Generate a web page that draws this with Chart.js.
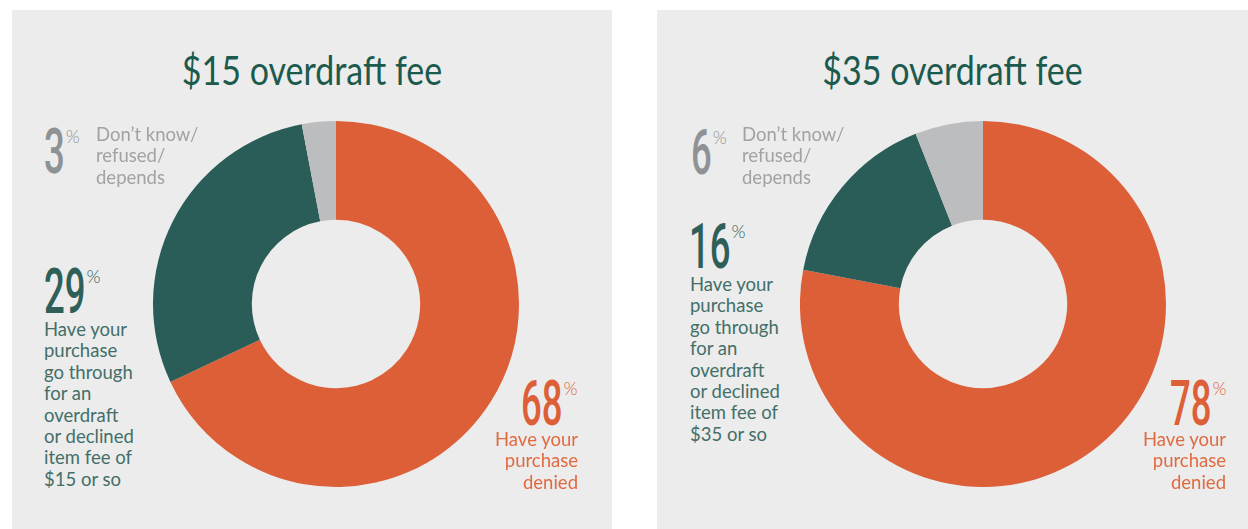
<!DOCTYPE html>
<html>
<head>
<meta charset="utf-8">
<script src="https://cdn.jsdelivr.net/npm/chart.js@4.4.1/dist/chart.umd.min.js"></script>
<style>
  body { margin: 0; background: #fff; width: 1248px; height: 529px; overflow: hidden; position: relative; font-family: Lato, sans-serif; }
  .panel { position: absolute; top: 10px; height: 519px; background: #ececec; }
  .title { position: absolute; top: 10px; white-space: nowrap; font-family: Lato, sans-serif; font-weight: 400; font-size: 40px; line-height: 1; color: #1b5a4d; transform: scaleX(0.85); transform-origin: center top; text-align: center; }
  .box { position: absolute; width: 366px; height: 366px; }
  .num { position: absolute; font-family: Roboto, sans-serif; font-weight: 500; font-size: 63px; line-height: 63px; white-space: nowrap; transform: scaleX(0.58); transform-origin: left top; }
  .pct { position: absolute; font-family: Lato, sans-serif; font-weight: 300; font-size: 18px; line-height: 18px; }
  .txt { position: absolute; font-family: Lato, sans-serif; font-size: 18.5px; line-height: 21.4px; white-space: nowrap; }
</style>
</head>
<body>
<script>
// data
const categories = ['Have your purchase denied', 'Have your purchase go through for an overdraft or declined item fee', 'Don\u2019t know/refused/depends'];
const titles = ['$15 overdraft fee', '$35 overdraft fee'];
const fee15 = [68, 29, 3];
const fee35 = [78, 16, 6];
const lines15 = [
  ['Have your', 'purchase', 'denied'],
  ['Have your', 'purchase', 'go through', 'for an', 'overdraft', 'or declined', 'item fee of', '$15 or so'],
  ['Don\u2019t know/', 'refused/', 'depends']
];
const lines35 = [
  ['Have your', 'purchase', 'denied'],
  ['Have your', 'purchase', 'go through', 'for an', 'overdraft', 'or declined', 'item fee of', '$35 or so'],
  ['Don\u2019t know/', 'refused/', 'depends']
];

// styles / layout
const sliceColors = ['#dc5f37', '#2b5d58', '#bcbdbf'];
const numColors = ['#dc5f37', '#2e5f59', '#8f9294'];
const textColors = ['#e06a40', '#436f68', '#a0a2a4'];

const panels = [
  { left: 12, width: 600, box: [153, 121], values: fee15, lines: lines15, title: titles[0],
    labels: [
      { num: [521, 380], text: [578, 447], align: 'right' },
      { num: [44, 268], text: [44, 337], align: 'left' },
      { num: [44, 128], text: [96, 142], align: 'left' }
    ] },
  { left: 657, width: 591, box: [800, 121], values: fee35, lines: lines35, title: titles[1],
    labels: [
      { num: [1170, 380], text: [1226, 447], align: 'right' },
      { num: [689, 223], text: [690, 292], align: 'left' },
      { num: [691, 129], text: [742, 142], align: 'left' }
    ] }
];

function el(cls, css, txt) {
  const d = document.createElement('div');
  d.className = cls;
  Object.assign(d.style, css);
  if (txt !== undefined) d.textContent = txt;
  document.body.appendChild(d);
  return d;
}

panels.forEach(p => {
  el('panel', { left: p.left + 'px', width: p.width + 'px' });
  el('title', { left: p.left + 'px', width: p.width + 'px', top: '50px' }, p.title);

  const box = el('box', { left: p.box[0] + 'px', top: p.box[1] + 'px' });
  const canvas = document.createElement('canvas');
  box.appendChild(canvas);

  new Chart(canvas, {
    type: 'doughnut',
    data: {
      labels: categories,
      datasets: [{
        data: p.values,
        backgroundColor: sliceColors,
        borderWidth: 0
      }]
    },
    options: {
      responsive: true,
      maintainAspectRatio: false,
      animation: false,
      events: [],
      cutout: '46%',
      layout: { padding: 0 },
      plugins: { legend: { display: false }, tooltip: { enabled: false } }
    }
  });

  p.labels.forEach((L, i) => {
    // big number, top of the digits at L.num[1]
    const n = el('num', { left: L.num[0] + 'px', top: (L.num[1] - 8) + 'px', color: numColors[i] }, String(p.values[i]));
    const r = n.getBoundingClientRect();
    el('pct', { left: (r.right + 1) + 'px', top: (L.num[1] - 1) + 'px', color: numColors[i] }, '%');

    const tx = el('txt', { top: (L.text[1] - 18) + 'px', color: textColors[i], textAlign: L.align });
    tx.innerHTML = p.lines[i].join('<br>');
    if (L.align === 'right') {
      tx.style.right = (1248 - L.text[0]) + 'px';
    } else {
      tx.style.left = L.text[0] + 'px';
    }
  });
});
</script>
</body>
</html>
